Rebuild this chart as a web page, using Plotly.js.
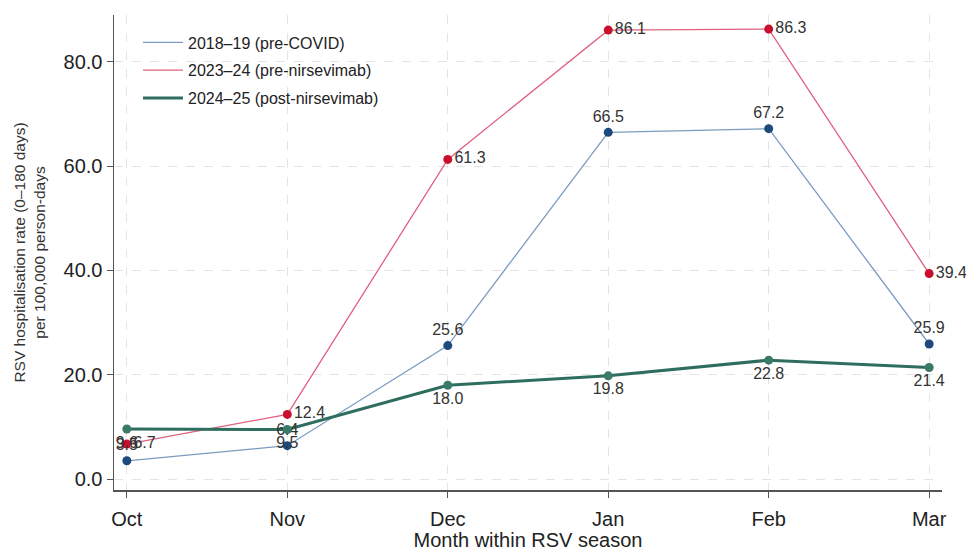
<!DOCTYPE html>
<html>
<head>
<meta charset="utf-8">
<script src="https://cdn.plot.ly/plotly-3.0.1.min.js"></script>
<style>html,body{margin:0;padding:0;background:#fff;}#chart{width:966px;height:551px;}</style>
</head>
<body>
<div id="chart"></div>
<script>
const months = ["Oct", "Nov", "Dec", "Jan", "Feb", "Mar"];
const preCovid = [3.5, 6.4, 25.6, 66.5, 67.2, 25.9];
const preNirsevimab = [6.7, 12.4, 61.3, 86.1, 86.3, 39.4];
const postNirsevimab = [9.6, 9.5, 18.0, 19.8, 22.8, 21.4];
const seriesNames = ["2018\u201319 (pre-COVID)", "2023\u201324 (pre-nirsevimab)", "2024\u201325 (post-nirsevimab)"];
const yTicks = [0, 20, 40, 60, 80];

const fmt = a => a.map(v => v.toFixed(1));
const FONT = "Liberation Sans, Arial, sans-serif";
const labelFont = {family: FONT, size: 16, color: "#333"};

const specs = [
  {y: preCovid, name: seriesNames[0], line: "#7b9cc0", lw: 1.3, mk: "#1d4a7c", pos: "top center"},
  {y: preNirsevimab, name: seriesNames[1], line: "#e0607e", lw: 1.3, mk: "#c8102e", pos: "middle right"},
  {y: postNirsevimab, name: seriesNames[2], line: "#2f6e5f", lw: 3, mk: "#3a7a68", pos: "bottom center"}
];

const traces = [];
specs.forEach((s, i) => {
  traces.push({x: months, y: s.y, name: s.name, mode: "lines", legendgroup: "g" + i,
    line: {color: s.line, width: s.lw}, hoverinfo: "skip"});
});
specs.forEach((s, i) => {
  traces.push({x: months, y: s.y, name: s.name, mode: "markers+text", showlegend: false,
    legendgroup: "g" + i, marker: {color: s.mk, size: 9},
    text: fmt(s.y), textposition: s.pos, textfont: labelFont, cliponaxis: false});
});

const layout = {
  width: 966, height: 551,
  margin: {l: 114, r: 24, t: 15, b: 61},
  paper_bgcolor: "#fff", plot_bgcolor: "#fff",
  font: {family: FONT, color: "#222"},
  showlegend: true,
  legend: {x: 0.029, y: 0.978, xanchor: "left", yanchor: "top", bgcolor: "rgba(0,0,0,0)",
           font: {size: 16, color: "#222"}, tracegroupgap: 4, itemwidth: 40},
  xaxis: {
    type: "category", range: [-0.08, 5.08],
    showline: true, linecolor: "#555", linewidth: 1.5,
    ticks: "outside", ticklen: 6, tickcolor: "#555", ticklabelstandoff: 4,
    showgrid: true, gridcolor: "#e4e4e4", griddash: "dash", gridwidth: 1,
    tickfont: {size: 20, color: "#222"}, zeroline: false,
    title: {text: "Month within RSV season", font: {size: 20, color: "#222"}, standoff: 2}
  },
  yaxis: {
    range: [-2.1, 89], tickvals: yTicks, tickformat: ".1f",
    showline: true, linecolor: "#555", linewidth: 1.5,
    ticks: "outside", ticklen: 6, tickcolor: "#555",
    showgrid: true, gridcolor: "#e4e4e4", griddash: "dash", gridwidth: 1,
    tickfont: {size: 20, color: "#222"}, zeroline: false,
    title: {text: "RSV hospitalisation rate (0\u2013180 days)<br>per 100,000 person-days", font: {size: 15.5, color: "#333"}, standoff: 14}
  }
};

Plotly.newPlot("chart", traces, layout, {displayModeBar: false, staticPlot: true});
</script>
</body>
</html>
